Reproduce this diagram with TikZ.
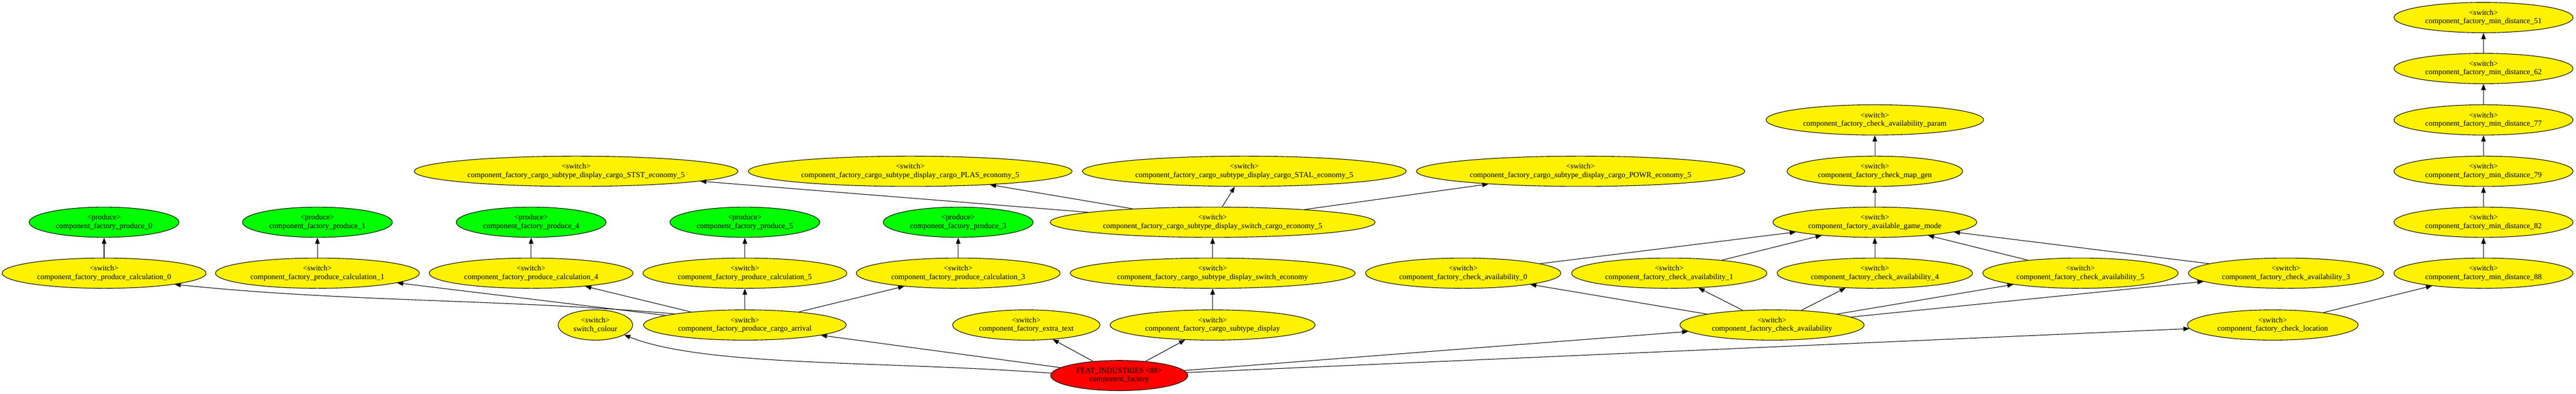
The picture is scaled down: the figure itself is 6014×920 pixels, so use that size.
\documentclass[tikz,border=0pt]{standalone}
\usepackage{fontspec}
\setmainfont{Liberation Serif}
\usetikzlibrary{shapes.geometric}
\usetikzlibrary{arrows.meta}

\tikzset{
  sw/.style={ellipse, draw, fill=yellow, line width=1pt, minimum height=53pt, inner sep=0pt, align=center, font=\fontsize{13.5}{15}\selectfont},
  prod/.style={sw, fill=green},
  feat/.style={sw, fill=red},
  link/.style={draw, line width=1pt, -{Triangle[length=10.7pt,width=8pt]}},
}

\begin{document}
\begin{tikzpicture}[x=0.75pt,y=0.75pt,yscale=-1,xscale=1]
%set diagram: 6014 wide, 920 high
\useasboundingbox (0,0) rectangle (6014,920);

% Root
\node[feat, minimum width=240pt] (feat) at (2613,877) {FEAT\_INDUSTRIES <88>\\component\_factory};

% Rank 1
\node[sw, minimum width=130.5pt] (colour) at (1390,759) {<switch>\\switch\_colour};
\node[sw, minimum width=355pt] (arrival) at (1739,759) {<switch>\\component\_factory\_produce\_cargo\_arrival};
\node[sw, minimum width=258pt] (extratext) at (2396,759) {<switch>\\component\_factory\_extra\_text};
\node[sw, minimum width=359pt] (subdisp) at (2831,759) {<switch>\\component\_factory\_cargo\_subtype\_display};
\node[sw, minimum width=322.5pt] (chkavail) at (4137,759) {<switch>\\component\_factory\_check\_availability};
\node[sw, minimum width=299pt] (chkloc) at (5306,759) {<switch>\\component\_factory\_check\_location};

% Rank 2
\node[sw, minimum width=357pt] (calc0) at (243,638) {<switch>\\component\_factory\_produce\_calculation\_0};
\node[sw, minimum width=357pt] (calc1) at (741,638) {<switch>\\component\_factory\_produce\_calculation\_1};
\node[sw, minimum width=357pt] (calc4) at (1240,638) {<switch>\\component\_factory\_produce\_calculation\_4};
\node[sw, minimum width=357pt] (calc5) at (1739,638) {<switch>\\component\_factory\_produce\_calculation\_5};
\node[sw, minimum width=357pt] (calc3) at (2237,638) {<switch>\\component\_factory\_produce\_calculation\_3};
\node[sw, minimum width=499pt] (swecon) at (2831,638) {<switch>\\component\_factory\_cargo\_subtype\_display\_switch\_economy};
\node[sw, minimum width=342pt] (ca0) at (3416,638) {<switch>\\component\_factory\_check\_availability\_0};
\node[sw, minimum width=342pt] (ca1) at (3897,638) {<switch>\\component\_factory\_check\_availability\_1};
\node[sw, minimum width=342pt] (ca4) at (4377,638) {<switch>\\component\_factory\_check\_availability\_4};
\node[sw, minimum width=342pt] (ca5) at (4857,638) {<switch>\\component\_factory\_check\_availability\_5};
\node[sw, minimum width=342pt] (ca3) at (5337,638) {<switch>\\component\_factory\_check\_availability\_3};
\node[sw, minimum width=313.5pt] (md88) at (5798,638) {<switch>\\component\_factory\_min\_distance\_88};

% Rank 3
\node[prod, minimum width=262.5pt] (prod0) at (243,519) {<produce>\\component\_factory\_produce\_0};
\node[prod, minimum width=262.5pt] (prod1) at (741,519) {<produce>\\component\_factory\_produce\_1};
\node[prod, minimum width=262.5pt] (prod4) at (1240,519) {<produce>\\component\_factory\_produce\_4};
\node[prod, minimum width=262.5pt] (prod5) at (1739,519) {<produce>\\component\_factory\_produce\_5};
\node[prod, minimum width=262.5pt] (prod3) at (2237,519) {<produce>\\component\_factory\_produce\_3};
\node[sw, minimum width=569pt] (swcargo) at (2831,519) {<switch>\\component\_factory\_cargo\_subtype\_display\_switch\_cargo\_economy\_5};
\node[sw, minimum width=357pt] (gamemode) at (4377,519) {<switch>\\component\_factory\_available\_game\_mode};
\node[sw, minimum width=313.5pt] (md82) at (5798,519) {<switch>\\component\_factory\_min\_distance\_82};

% Rank 4
\node[sw, minimum width=567pt] (stst) at (1345,400) {<switch>\\component\_factory\_cargo\_subtype\_display\_cargo\_STST\_economy\_5};
\node[sw, minimum width=567pt] (plas) at (2125,400) {<switch>\\component\_factory\_cargo\_subtype\_display\_cargo\_PLAS\_economy\_5};
\node[sw, minimum width=567pt] (stal) at (2905,400) {<switch>\\component\_factory\_cargo\_subtype\_display\_cargo\_STAL\_economy\_5};
\node[sw, minimum width=575pt] (powr) at (3690,400) {<switch>\\component\_factory\_cargo\_subtype\_display\_cargo\_POWR\_economy\_5};
\node[sw, minimum width=307.5pt] (mapgen) at (4377,400) {<switch>\\component\_factory\_check\_map\_gen};
\node[sw, minimum width=313.5pt] (md79) at (5798,400) {<switch>\\component\_factory\_min\_distance\_79};

% Rank 5 to 7
\node[sw, minimum width=381pt] (param) at (4377,280) {<switch>\\component\_factory\_check\_availability\_param};
\node[sw, minimum width=313.5pt] (md77) at (5798,280) {<switch>\\component\_factory\_min\_distance\_77};
\node[sw, minimum width=313.5pt] (md62) at (5798,160) {<switch>\\component\_factory\_min\_distance\_62};
\node[sw, minimum width=313.5pt] (md51) at (5798,41) {<switch>\\component\_factory\_min\_distance\_51};

% Edges from root
\draw[link] (feat.178) .. controls (2054,842) and (1646,857) .. (colour.-19);
\draw[link] (feat) -- (arrival);
\draw[link] (feat) -- (extratext);
\draw[link] (feat) -- (subdisp);
\draw[link] (feat) -- (chkavail);
\draw[link] (feat) -- (chkloc);

% Produce branch
\draw[link] (arrival.171) .. controls (1177,698) and (810,706) .. (calc0.-9);
\draw[link] (arrival) -- (calc1);
\draw[link] (arrival) -- (calc4);
\draw[link] (arrival) -- (calc5);
\draw[link] (arrival) -- (calc3);
\draw[link] (calc0) -- (prod0);
\draw[link] (calc1) -- (prod1);
\draw[link] (calc4) -- (prod4);
\draw[link] (calc5) -- (prod5);
\draw[link] (calc3) -- (prod3);

% Cargo subtype branch
\draw[link] (subdisp) -- (swecon);
\draw[link] (swecon) -- (swcargo);
\draw[link] (swcargo) -- (stst);
\draw[link] (swcargo) -- (plas);
\draw[link] (swcargo) -- (stal);
\draw[link] (swcargo) -- (powr);

% Availability branch
\draw[link] (chkavail) -- (ca0);
\draw[link] (chkavail) -- (ca1);
\draw[link] (chkavail) -- (ca4);
\draw[link] (chkavail) -- (ca5);
\draw[link] (chkavail) -- (ca3);
\draw[link] (ca0) -- (gamemode);
\draw[link] (ca1) -- (gamemode);
\draw[link] (ca4) -- (gamemode);
\draw[link] (ca5) -- (gamemode);
\draw[link] (ca3) -- (gamemode);
\draw[link] (gamemode) -- (mapgen);
\draw[link] (mapgen) -- (param);

% Location branch
\draw[link] (chkloc) -- (md88);
\draw[link] (md88) -- (md82);
\draw[link] (md82) -- (md79);
\draw[link] (md79) -- (md77);
\draw[link] (md77) -- (md62);
\draw[link] (md62) -- (md51);

\end{tikzpicture}
\end{document}
